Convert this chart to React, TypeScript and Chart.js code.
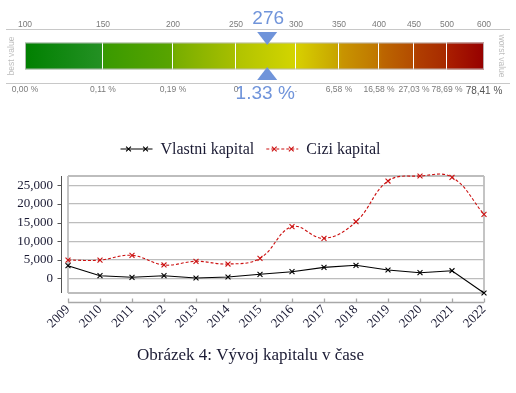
import React, { useEffect, useRef } from 'react';
import { Chart, registerables } from 'chart.js';
Chart.register(...registerables);

// ---------- data ----------
const years = ['2009', '2010', '2011', '2012', '2013', '2014', '2015', '2016', '2017', '2018', '2019', '2020', '2021', '2022'];
const vlastniKapital = [3400, 700, 270, 700, 80, 350, 1070, 1780, 2950, 3490, 2230, 1510, 2040, -3950];
const ciziKapital = [4900, 4900, 6180, 3580, 4570, 3840, 5380, 13870, 10750, 15210, 26150, 27500, 27150, 17200];
const yTickValues = [0, 5000, 10000, 15000, 20000, 25000];
const seriesLabels = ['Vlastni kapital', 'Cizi kapital'];
const captionText = 'Obrázek 4: Vývoj kapitalu v čase';

const gaugeTickScores = [100, 150, 200, 250, 300, 350, 400, 450, 500, 600];
const gaugeTickLabels = ['100', '150', '200', '250', '300', '350', '400', '450', '500', '600'];
const gaugeSegmentShares = [78, 70, 63, 60, 43, 40, 35, 33, 37];
const gaugePercentLabels = ['0,00 %', '0,11 %', '0,19 %', '0', '.', '6,58 %', '16,58 %', '27,03 %', '78,69 %', '78,41 %'];
const gaugeScore = 276;
const gaugeScoreLabel = '276';
const gaugePercentLabel = '1.33 %';

// ---------- styles ----------
const SERIF = "'Liberation Serif', 'DejaVu Serif', serif";
const SANS = "'Liberation Sans', 'DejaVu Sans', sans-serif";
const TEXT = '#1a1a33';
const BLUE = '#7094da';
const RED = '#cc1111';

const gradientStops: [number, string][] = [
  [0, '#008000'], [0.163, '#239023'], [0.174, '#3a9a00'], [0.316, '#58a400'],
  [0.329, '#78ae00'], [0.453, '#a6be00'], [0.468, '#b2c400'], [0.584, '#d2d400'],
  [0.599, '#d6cc00'], [0.678, '#c8a600'], [0.691, '#c89400'], [0.765, '#c07800'],
  [0.778, '#bc6600'], [0.841, '#b44e00'], [0.854, '#b03e00'], [0.913, '#a82c00'],
  [0.926, '#a81c00'], [1, '#960000'],
];

const cumulative = gaugeSegmentShares.reduce<number[]>((acc, v) => { acc.push(acc[acc.length - 1] + v); return acc; }, [0]);
const gaugeTotal = cumulative[cumulative.length - 1];

function scoreToShare(score: number) {
  for (let i = 0; i < gaugeTickScores.length - 1; i++) {
    const a = gaugeTickScores[i], b = gaugeTickScores[i + 1];
    if (score >= a && score <= b) return cumulative[i] + ((score - a) / (b - a)) * gaugeSegmentShares[i];
  }
  return score < gaugeTickScores[0] ? 0 : gaugeTotal;
}

function drawCrossRot(c: CanvasRenderingContext2D, x: number, y: number, r: number) {
  c.beginPath();
  c.moveTo(x - r, y - r); c.lineTo(x + r, y + r);
  c.moveTo(x - r, y + r); c.lineTo(x + r, y - r);
  c.stroke();
}

export default function App() {
  const gaugeRef = useRef<HTMLCanvasElement>(null);
  const lineRef = useRef<HTMLCanvasElement>(null);

  useEffect(() => {
    let gradCache: CanvasGradient | null = null;
    const gaugeBg = (ctx: any) => {
      const chart = ctx.chart;
      const area = chart.chartArea;
      if (!area) return '#888';
      if (!gradCache) {
        const g = chart.ctx.createLinearGradient(area.left, 0, area.right, 0);
        gradientStops.forEach(([p, col]) => g.addColorStop(p, col));
        gradCache = g;
      }
      return gradCache;
    };

    const gaugePlugin = {
      id: 'gaugeDecor',
      afterDraw(chart: any) {
        const c: CanvasRenderingContext2D = chart.ctx;
        const area = chart.chartArea;
        const xs = chart.scales.x;
        const bar = chart.getDatasetMeta(0).data[0] as any;
        c.save();
        // frame lines
        c.strokeStyle = '#c8c8c8';
        c.lineWidth = 1;
        c.beginPath();
        c.moveTo(6, Math.round(area.top) + 0.5); c.lineTo(chart.width - 6, Math.round(area.top) + 0.5);
        c.moveTo(6, Math.round(area.bottom) + 0.5); c.lineTo(chart.width - 6, Math.round(area.bottom) + 0.5);
        c.stroke();
        // bar outline
        if (bar) {
          const h = bar.height;
          c.strokeStyle = 'rgba(190,190,190,0.9)';
          c.strokeRect(area.left + 0.5, bar.y - h / 2 + 0.5, area.right - area.left - 1, h - 1);
        }
        // side labels
        c.fillStyle = '#bdbdbd';
        c.font = `8.5px ${SANS}`;
        c.textAlign = 'center';
        c.textBaseline = 'middle';
        const midY = bar ? bar.y : (area.top + area.bottom) / 2;
        c.save(); c.translate(12, midY); c.rotate(-Math.PI / 2); c.fillText('best value', 0, 0); c.restore();
        c.save(); c.translate(chart.width - 15, midY); c.rotate(Math.PI / 2); c.fillText('worst value', 0, 0); c.restore();
        // marker
        const px = xs.getPixelForValue(scoreToShare(gaugeScore));
        c.fillStyle = BLUE;
        c.beginPath();
        c.moveTo(px - 10, area.top + 3); c.lineTo(px + 10, area.top + 3); c.lineTo(px, area.top + 16); c.closePath();
        c.fill();
        c.beginPath();
        c.moveTo(px - 10, area.bottom - 3); c.lineTo(px + 10, area.bottom - 3); c.lineTo(px, area.bottom - 16); c.closePath();
        c.fill();
        c.font = `19px ${SANS}`;
        c.fillText(gaugeScoreLabel, px + 1, area.top - 10);
        c.fillText(gaugePercentLabel, px - 2, area.bottom + 11);
        c.restore();
      },
    };

    const gauge = new Chart(gaugeRef.current!, {
      type: 'bar',
      data: {
        labels: ['score'],
        datasets: gaugeSegmentShares.map((v, i) => ({
          data: [v],
          backgroundColor: gaugeBg,
          borderColor: 'rgba(255,255,255,0.5)',
          borderWidth: { left: 0, top: 0, bottom: 0, right: i < gaugeSegmentShares.length - 1 ? 1 : 0 },
          borderSkipped: false,
          barPercentage: 1,
          categoryPercentage: 0.5,
        })) as any,
      },
      options: {
        indexAxis: 'y',
        animation: false,
        responsive: false,
        events: [],
        layout: { padding: { left: 25, right: 32, top: 0, bottom: 0 } },
        plugins: { legend: { display: false }, tooltip: { enabled: false } },
        scales: {
          x: {
            type: 'linear', position: 'top', stacked: true, min: 0, max: gaugeTotal,
            afterBuildTicks: (s: any) => { s.ticks = cumulative.map((v) => ({ value: v })); },
            afterFit: (s: any) => { s.height = 29; },
            ticks: {
              autoSkip: false, maxRotation: 0, padding: -9,
              callback: (_v: any, i: number) => gaugeTickLabels[i],
              font: { family: SANS, size: 8.5 }, color: '#7a7a7a',
            },
            grid: { display: false }, border: { display: false },
          },
          x2: {
            type: 'linear', position: 'bottom', min: 0, max: gaugeTotal,
            afterBuildTicks: (s: any) => { s.ticks = cumulative.map((v) => ({ value: v })); },
            afterFit: (s: any) => { s.height = 27; },
            ticks: {
              autoSkip: false, maxRotation: 0, padding: -6,
              callback: (_v: any, i: number) => gaugePercentLabels[i],
              font: (ctx: any) => ({ family: SANS, size: ctx.index === gaugePercentLabels.length - 1 ? 10 : 8.5 }),
              color: (ctx: any) => (ctx.index === gaugePercentLabels.length - 1 ? '#555' : '#7a7a7a'),
            },
            grid: { display: false }, border: { display: false },
          },
          y: { stacked: true, display: false },
        },
      } as any,
      plugins: [gaugePlugin],
    });

    // ---------- line chart ----------
    const yMin = Math.min(...vlastniKapital, ...ciziKapital);
    const yMax = Math.max(...vlastniKapital, ...ciziKapital);
    const lastX = years.length - 1;

    const decorPlugin = {
      id: 'axesDecor',
      afterDraw(chart: any) {
        const c: CanvasRenderingContext2D = chart.ctx;
        const area = chart.chartArea;
        const xs = chart.scales.x;
        const ys = chart.scales.y;
        c.save();
        // offset y-axis line
        const ax = Math.round(area.left - 7) + 0.5;
        c.strokeStyle = '#555';
        c.lineWidth = 1;
        c.beginPath();
        c.moveTo(ax, area.top); c.lineTo(ax, area.bottom);
        yTickValues.forEach((v) => {
          const y = Math.round(ys.getPixelForValue(v)) + 0.5;
          c.moveTo(ax - 4, y); c.lineTo(ax, y);
        });
        c.stroke();
        // offset x-axis line
        const ay = Math.round(area.bottom + 9) + 0.5;
        c.strokeStyle = '#a8a8a8';
        c.lineWidth = 1.3;
        c.beginPath();
        c.moveTo(area.left, ay); c.lineTo(area.right, ay);
        years.forEach((_y, i) => {
          const x = Math.round(xs.getPixelForValue(i)) + 0.5;
          c.moveTo(x, ay); c.lineTo(x, ay - 4);
        });
        c.stroke();
        // legend
        c.font = `16px ${SERIF}`;
        c.textBaseline = 'middle';
        c.textAlign = 'left';
        const sampleW = 32, gapS = 8, gapI = 12;
        const widths = seriesLabels.map((t) => c.measureText(t).width);
        const total = widths.reduce((a, w) => a + sampleW + gapS + w, 0) + gapI * (seriesLabels.length - 1);
        let x = (chart.options.layout.padding.left + area.right) / 2 - total / 2;
        const ly = 39;
        chart.data.datasets.forEach((ds: any, i: number) => {
          c.strokeStyle = ds.borderColor;
          c.lineWidth = 1.1;
          c.setLineDash(ds.borderDash || []);
          c.beginPath();
          c.moveTo(x, ly); c.lineTo(x + sampleW, ly);
          c.stroke();
          c.setLineDash([]);
          drawCrossRot(c, x + 8, ly, 2.4);
          drawCrossRot(c, x + 25, ly, 2.4);
          c.fillStyle = TEXT;
          c.fillText(seriesLabels[i], x + sampleW + gapS, ly + 1);
          x += sampleW + gapS + widths[i] + gapI;
        });
        c.restore();
      },
    };

    const tickFont = { family: SERIF, size: 13 };
    const line = new Chart(lineRef.current!, {
      type: 'line',
      data: {
        labels: years,
        datasets: [
          {
            label: seriesLabels[0], data: vlastniKapital,
            borderColor: '#000', borderWidth: 1.1, tension: 0,
            pointStyle: 'crossRot', pointRadius: 3.5, pointBorderWidth: 1.1,
            pointBorderColor: '#000', pointBackgroundColor: '#000', clip: false,
          },
          {
            label: seriesLabels[1], data: ciziKapital,
            borderColor: RED, borderWidth: 1.1, borderDash: [3, 2], tension: 0.4,
            pointStyle: 'crossRot', pointRadius: 3.5, pointBorderWidth: 1.1,
            pointBorderColor: RED, pointBackgroundColor: RED, clip: false,
          },
        ] as any,
      },
      options: {
        animation: false,
        responsive: false,
        events: [],
        layout: { padding: { left: 17, right: 32, top: 66, bottom: 22.6 } },
        elements: { line: { capBezierPoints: false } },
        plugins: {
          legend: { display: false },
          tooltip: { enabled: false },
          title: {
            display: true, position: 'bottom', text: captionText,
            font: { family: SERIF, size: 17, weight: 'normal' }, color: TEXT,
            padding: { top: 7, bottom: 5 },
          },
        },
        scales: {
          x: {
            grid: {
              color: (ctx: any) => (ctx.index === 0 || ctx.index === lastX ? '#c4c4c4' : 'rgba(0,0,0,0)'),
              lineWidth: 2, drawTicks: false,
            },
            border: { display: false },
            ticks: { minRotation: 45, maxRotation: 45, autoSkip: false, padding: 9, font: tickFont, color: TEXT },
            afterFit: (s: any) => { s.height = 45; },
          },
          y: {
            min: yMin, max: yMax,
            afterBuildTicks: (s: any) => { s.ticks = [yMin, ...yTickValues, yMax].map((v) => ({ value: v })); },
            ticks: {
              autoSkip: false, padding: 15, font: tickFont, color: TEXT,
              callback: (v: any) => (yTickValues.includes(v) ? Number(v).toLocaleString('en-US') : ''),
            },
            grid: {
              color: '#bdbdbd', drawTicks: false,
              lineWidth: (ctx: any) => (ctx.index === 0 || ctx.index === yTickValues.length + 1 ? 2 : 1.2),
            },
            border: { display: false },
            afterFit: (s: any) => { s.width = 51; },
          },
        },
      } as any,
      plugins: [decorPlugin],
    });

    return () => { gauge.destroy(); line.destroy(); };
  }, []);

  return (
    <div style={{ position: 'absolute', left: 0, top: 0, width: 516, height: 393, background: '#fff' }}>
      <canvas ref={gaugeRef} width={516} height={110} style={{ position: 'absolute', left: 0, top: 0, width: 516, height: 110 }} />
      <canvas ref={lineRef} width={516} height={283} style={{ position: 'absolute', left: 0, top: 110, width: 516, height: 283 }} />
    </div>
  );
}
